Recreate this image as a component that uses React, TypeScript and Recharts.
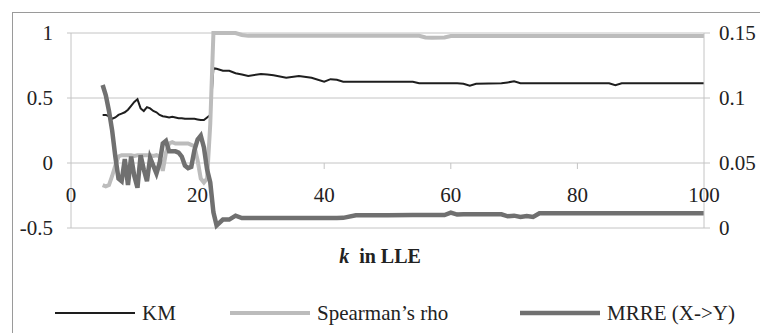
import { ComposedChart, Line, XAxis, YAxis, CartesianGrid, Legend } from 'recharts';

// k values (LLE neighbourhood size)
const kValues = [
  5, 5.5, 6, 6.5, 7, 7.5, 8, 8.5, 9, 9.5, 10, 10.5, 11, 11.5, 12, 12.5, 13, 13.5,
  14, 14.5, 15, 15.5, 16, 16.5, 17, 17.5, 18, 18.5, 19, 19.5, 20, 20.5, 21, 21.5,
  22, 22.5, 23,
  24, 25, 26, 27, 28, 30, 31, 32, 34, 36, 38, 40, 41, 42, 43, 45, 50, 54, 55, 56,
  57, 59, 60, 61, 62, 63, 64, 68, 69, 70, 71, 72, 73, 74, 80, 85, 86, 87, 90, 100,
];

const kmValues = [
  0.37, 0.37, 0.36, 0.34, 0.35, 0.37, 0.38, 0.39, 0.41, 0.44, 0.47, 0.49, 0.42, 0.40,
  0.43, 0.42, 0.40, 0.39, 0.37, 0.36, 0.355, 0.35, 0.355, 0.35, 0.345, 0.345, 0.34,
  0.34, 0.34, 0.34, 0.335, 0.33, 0.33, 0.35, 0.37, 0.73, 0.725,
  0.71, 0.71, 0.69, 0.68, 0.67, 0.685, 0.68, 0.675, 0.655, 0.67, 0.655, 0.625, 0.645,
  0.64, 0.625, 0.625, 0.625, 0.625, 0.613, 0.613, 0.613, 0.613, 0.613, 0.613, 0.61,
  0.595, 0.61, 0.613, 0.62, 0.628, 0.613, 0.613, 0.613, 0.613, 0.613, 0.613, 0.598,
  0.613, 0.613, 0.613,
];

const spearmanValues = [
  -0.17, -0.18, -0.17, -0.1, -0.02, 0.05, 0.06, 0.06, 0.06, 0.06, 0.055, 0.06, 0.06,
  0.06, 0.06, 0.06, 0.055, 0.06, 0.05, -0.06, 0.08, 0.15, 0.16, 0.15, 0.15, 0.15, 0.15,
  0.15, 0.14, 0.13, 0.02, -0.12, -0.15, -0.12, 0.3, 1.0, 1.0,
  1.0, 1.0, 1.0, 0.985, 0.978, 0.978, 0.978, 0.978, 0.978, 0.978, 0.978, 0.978, 0.978,
  0.978, 0.978, 0.978, 0.978, 0.978, 0.978, 0.965, 0.963, 0.965, 0.976, 0.976, 0.976,
  0.976, 0.976, 0.976, 0.976, 0.976, 0.976, 0.976, 0.976, 0.976, 0.976, 0.976, 0.976,
  0.976, 0.976, 0.976,
];

// MRRE (X->Y) is read against the right-hand axis
const mrreValues = [
  0.11, 0.102, 0.09, 0.075, 0.055, 0.038, 0.036, 0.053, 0.033, 0.055, 0.04, 0.031,
  0.056, 0.045, 0.036, 0.054, 0.048, 0.042, 0.05, 0.065, 0.067, 0.059, 0.059, 0.059,
  0.058, 0.055, 0.048, 0.046, 0.047, 0.06, 0.068, 0.071, 0.062, 0.045, 0.035, 0.012,
  0.002,
  0.0065, 0.0065, 0.0095, 0.0077, 0.0077, 0.0077, 0.0077, 0.0077, 0.0077, 0.0077,
  0.0077, 0.0077, 0.0077, 0.0077, 0.0078, 0.0098, 0.0099, 0.01, 0.01, 0.01, 0.01, 0.01,
  0.0118, 0.0103, 0.0105, 0.0105, 0.0105, 0.0105, 0.009, 0.0095, 0.0085, 0.0093,
  0.0085, 0.0113, 0.0113, 0.0113, 0.0113, 0.0113, 0.0113, 0.0113,
];

const xTicks = [0, 20, 40, 60, 80, 100];
const leftTicks = [-0.5, 0, 0.5, 1];
const rightTicks = [0, 0.05, 0.1, 0.15];

const data = kValues.map((k, i) => ({
  k,
  km: kmValues[i],
  spearman: spearmanValues[i],
  mrre: mrreValues[i],
}));

const FONT = '"Liberation Serif", "Times New Roman", serif';
const GRID = '#c4c4c4';
const TEXT = '#222';

// x labels sit just under the zero line of the left axis, not at the bottom
const XTick = (props: any) => {
  const { x, y, payload } = props;
  return (
    <g>
      {payload.value !== 0 && payload.value !== 100 && (
        <line x1={x} x2={x} y1={y - 65} y2={y - 59} stroke={GRID} />
      )}
      <text x={x} y={y - 33} dy="0.35em" textAnchor="middle" fontSize={21} fill={TEXT} fontFamily={FONT}>
        {payload.value}
      </text>
    </g>
  );
};

const LeftTick = (props: any) => {
  const { x, y, payload } = props;
  return (
    <text x={x} y={y} dy="0.35em" textAnchor="end" fontSize={21} fill={TEXT} fontFamily={FONT}>
      {payload.value}
    </text>
  );
};

const RightTick = (props: any) => {
  const { x, y, payload } = props;
  return (
    <text x={x} y={y} dy="0.35em" textAnchor="start" fontSize={21} fill={TEXT} fontFamily={FONT}>
      {payload.value}
    </text>
  );
};

const legendItems = [
  { label: 'KM', color: '#1e1e1e', width: 2, x: 55 },
  { label: 'Spearman\u2019s rho', color: '#bcbcbc', width: 4, x: 230 },
  { label: 'MRRE (X->Y)', color: '#707070', width: 4.5, x: 520 },
];

const LegendContent = () => (
  <svg width={760} height={30}>
    {legendItems.map((it) => (
      <g key={it.label}>
        <line x1={it.x} x2={it.x + 80} y1={15} y2={15} stroke={it.color} strokeWidth={it.width} />
        <text x={it.x + 87} y={15} dy="0.35em" fontSize={21} fill={TEXT} fontFamily={FONT}>
          {it.label}
        </text>
      </g>
    ))}
  </svg>
);

export default function App() {
  return (
    <div
      style={{
        position: 'absolute',
        left: 0,
        top: 0,
        width: 760,
        height: 333,
        overflow: 'hidden',
        background: '#fff',
        fontFamily: FONT,
      }}
    >
      <div
        style={{
          position: 'absolute',
          left: 12,
          top: 12,
          width: 800,
          height: 400,
          border: '1px solid #9a9a9a',
        }}
      />
      <ComposedChart
        width={760}
        height={333}
        data={data}
        margin={{ top: 33, right: 0, bottom: 75, left: 0 }}
        style={{ position: 'absolute', left: 0, top: 0 }}
      >
        <CartesianGrid vertical={false} stroke={GRID} yAxisId="left" />
        <XAxis
          dataKey="k"
          type="number"
          domain={[0, 100]}
          ticks={xTicks}
          height={30}
          axisLine={false}
          tickLine={false}
          tickSize={0}
          tickMargin={0}
          tick={<XTick />}
          interval={0}
        />
        <YAxis
          yAxisId="left"
          domain={[-0.5, 1]}
          ticks={leftTicks}
          width={71}
          stroke={GRID}
          tickSize={4}
          tickMargin={14}
          tick={<LeftTick />}
          interval={0}
        />
        <YAxis
          yAxisId="right"
          orientation="right"
          domain={[0, 0.15]}
          ticks={rightTicks}
          width={56}
          stroke={GRID}
          tickSize={6}
          tickMargin={9}
          tick={<RightTick />}
          interval={0}
        />
        <Legend
          layout="horizontal"
          verticalAlign="middle"
          content={<LegendContent />}
          wrapperStyle={{ position: 'absolute', left: 0, top: 298, width: 760, height: 30 }}
        />
        <Line
          yAxisId="left"
          dataKey="km"
          type="linear"
          stroke="#1e1e1e"
          strokeWidth={2}
          dot={false}
          isAnimationActive={false}
        />
        <Line
          yAxisId="left"
          dataKey="spearman"
          type="linear"
          stroke="#bcbcbc"
          strokeWidth={4}
          dot={false}
          isAnimationActive={false}
        />
        <Line
          yAxisId="right"
          dataKey="mrre"
          type="linear"
          stroke="#707070"
          strokeWidth={4.5}
          dot={false}
          isAnimationActive={false}
        />
      </ComposedChart>
      <div
        style={{
          position: 'absolute',
          left: 280,
          top: 245,
          width: 200,
          textAlign: 'center',
          fontFamily: FONT,
          fontWeight: 'bold',
          fontSize: 20,
          color: TEXT,
        }}
      >
        <i>k</i> &nbsp;in LLE
      </div>
    </div>
  );
}
